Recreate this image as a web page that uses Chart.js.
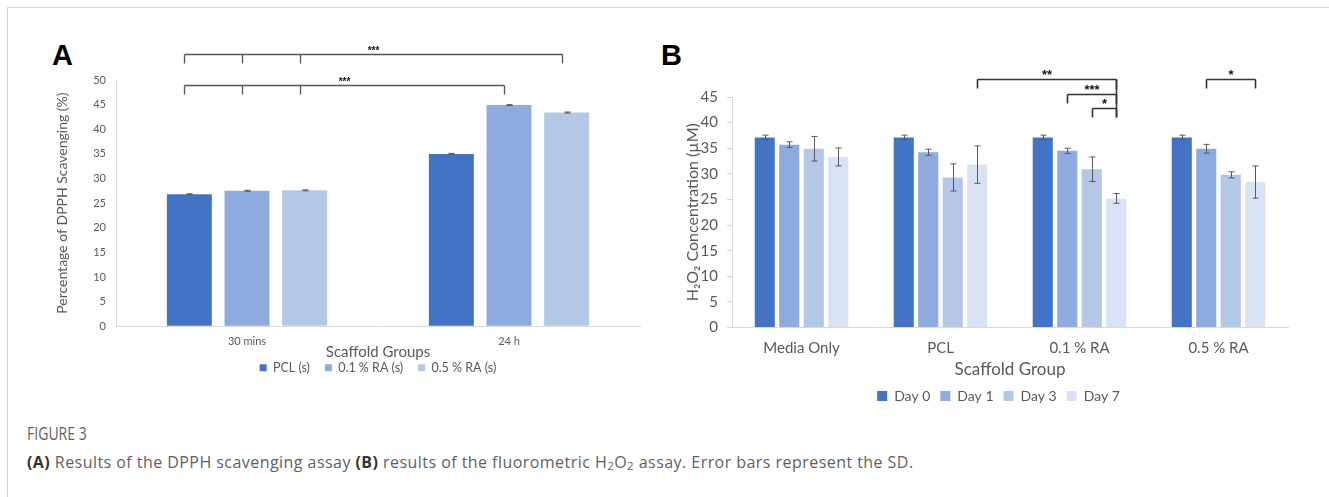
<!DOCTYPE html>
<html>
<head>
<meta charset="utf-8">
<script src="https://cdn.jsdelivr.net/npm/chart.js@4.4.1/dist/chart.umd.min.js"></script>
<style>
  body { margin:0; background:#fff; width:1329px; height:497px; overflow:hidden; position:relative; font-family:Lato, sans-serif; }
  #frame { position:absolute; left:7px; top:7px; width:1330px; height:500px; border-left:1.5px solid #d6d6d6; border-top:1.5px solid #d6d6d6; }
  .pl { position:absolute; top:41px; font:bold 29px "Liberation Sans", Arial, sans-serif; line-height:29px; color:#000; }
  canvas { position:absolute; }
  .cap { position:absolute; left:27px; font-family:"Open Sans", sans-serif; color:#5f5f5f; white-space:nowrap; }
  .cap b { color:#333; }
  .cap sub { font-size:0.72em; vertical-align:-0.2em; line-height:0; }
</style>
</head>
<body>
<div id="frame"></div>
<div class="pl" style="left:52px">A</div>
<div class="pl" style="left:661px">B</div>
<canvas id="chartA" width="600" height="354" style="left:50px;top:30px"></canvas>
<canvas id="chartB" width="650" height="383" style="left:679px;top:30px"></canvas>
<div class="cap" style="top:421px;font-size:18px;line-height:24px;transform:scaleX(0.78);transform-origin:0 0">FIGURE 3</div>
<div class="cap" style="top:451px;font-size:16px;line-height:22px;letter-spacing:0.45px"><b>(A)</b> Results of the DPPH scavenging assay <b>(B)</b> results of the fluorometric H<sub>2</sub>O<sub>2</sub> assay. Error bars represent the SD.</div>
<script>
// --- panel A: DPPH scavenging (%)
var timesA = ['30 mins', '24 h'];
var pclA = [26.8, 35.0];
var ra01A = [27.5, 44.9];
var ra05A = [27.6, 43.4];
var pclSdA = [0.1, 0.1];
var ra01SdA = [0.1, 0.1];
var ra05SdA = [0.1, 0.1];
// brackets: legs are [dataset, category]
var sigA = [
  { legs: [[0,0],[1,0],[2,0],[2,1]], label: '***', level: 0 },
  { legs: [[0,0],[1,0],[2,0],[1,1]], label: '***', level: 1 }
];

// --- panel B: H2O2 concentration (uM)
var groupsB = ['Media Only', 'PCL', '0.1 % RA', '0.5 % RA'];
var day0 = [37.1, 37.1, 37.1, 37.1];
var day1 = [35.7, 34.2, 34.5, 34.9];
var day3 = [34.9, 29.3, 30.9, 29.8];
var day7 = [33.3, 31.8, 25.2, 28.4];
var day0Sd = [0.45, 0.45, 0.45, 0.45];
var day1Sd = [0.55, 0.6, 0.5, 0.85];
var day3Sd = [2.4, 2.65, 2.4, 0.6];
var day7Sd = [1.75, 3.65, 0.95, 3.15];
var sigB = [
  { legs: [[3,1],[3,2]], label: '**', level: 0 },
  { legs: [[1,2],[3,2]], label: '***', level: 1 },
  { legs: [[2,2],[3,2]], label: '*', level: 2 },
  { legs: [[1,3],[3,3]], label: '*', level: 0 }
];

var blues = ['#4472C4', '#8FAADC', '#B4C7E7', '#DAE3F3'];
var grey = '#595959';
var axisGrey = '#d9d9d9';

var errorBars = {
  id: 'errorBars',
  afterDatasetsDraw: function(chart, args, opts) {
    var ctx = chart.ctx, ys = chart.scales.y;
    ctx.save();
    ctx.strokeStyle = opts.color;
    ctx.lineWidth = 1;
    chart.data.datasets.forEach(function(ds, i) {
      chart.getDatasetMeta(i).data.forEach(function(bar, j) {
        var v = ds.data[j], e = ds.sd[j];
        var y1 = ys.getPixelForValue(v + e), y2 = ys.getPixelForValue(v - e);
        var x = Math.round(bar.x) + 0.5, w = opts.cap;
        ctx.beginPath();
        ctx.moveTo(x, y1); ctx.lineTo(x, y2);
        ctx.moveTo(x - w, y1); ctx.lineTo(x + w, y1);
        ctx.moveTo(x - w, y2); ctx.lineTo(x + w, y2);
        ctx.stroke();
      });
    });
    ctx.restore();
  }
};

var brackets = {
  id: 'brackets',
  afterDatasetsDraw: function(chart, args, opts) {
    var ctx = chart.ctx, top = chart.chartArea.top;
    var shared = {};
    ctx.save();
    ctx.strokeStyle = opts.color;
    ctx.fillStyle = '#111';
    ctx.lineWidth = opts.lineWidth;
    ctx.font = opts.font;
    ctx.textAlign = 'center';
    ctx.textBaseline = 'alphabetic';
    opts.items.forEach(function(b) {
      var y = Math.round(top + opts.y0 + b.level * opts.step) + 0.5;
      var xs = b.legs.map(function(l) { return Math.round(chart.getDatasetMeta(l[0]).data[l[1]].x + opts.dx) + 0.5; });
      var x0 = Math.min.apply(null, xs), x1 = Math.max.apply(null, xs);
      ctx.beginPath();
      ctx.moveTo(x0, y); ctx.lineTo(x1, y);
      xs.forEach(function(x) {
        ctx.moveTo(x, y); ctx.lineTo(x, y + opts.tick);
        if (opts.join) {
          var s = shared[x] || (shared[x] = { a: y, b: y + opts.tick, n: 0 });
          s.a = Math.min(s.a, y); s.b = Math.max(s.b, y + opts.tick); s.n++;
        }
      });
      ctx.stroke();
      ctx.fillText(b.label, (x0 + x1) / 2, y + opts.labelDy);
    });
    Object.keys(shared).forEach(function(k) {
      var s = shared[k];
      if (s.n > 1) { ctx.beginPath(); ctx.moveTo(+k, s.a); ctx.lineTo(+k, s.b); ctx.stroke(); }
    });
    ctx.restore();
  }
};

// nudge the legend sideways after layout
var legendShift = {
  id: 'legendShift',
  afterLayout: function(chart, args, opts) {
    var l = chart.legend;
    if (l) { l.left += opts.dx; l.right += opts.dx; }
  }
};

Chart.defaults.font.family = 'Lato, sans-serif';
Chart.defaults.color = grey;

new Chart(document.getElementById('chartA'), {
  type: 'bar',
  data: {
    labels: timesA,
    datasets: [
      { label: 'PCL (s)', data: pclA, sd: pclSdA, backgroundColor: blues[0] },
      { label: '0.1 % RA (s)', data: ra01A, sd: ra01SdA, backgroundColor: blues[1] },
      { label: '0.5 % RA (s)', data: ra05A, sd: ra05SdA, backgroundColor: blues[2] }
    ]
  },
  options: {
    responsive: false,
    animation: false,
    categoryPercentage: 0.66,
    barPercentage: 0.78,
    layout: { padding: { top: 50, right: 10, left: 0, bottom: 0 } },
    scales: {
      x: {
        grid: { display: false, drawTicks: false },
        border: { color: axisGrey },
        ticks: { font: { size: 11 }, padding: 9, color: grey },
        title: { display: true, text: 'Scaffold Groups', font: { size: 15 }, color: grey, padding: { top: 0, bottom: -14.25 } },
        afterFit: function(s) { s.height = 20.25; }
      },
      y: {
        min: 0, max: 50,
        grid: { drawOnChartArea: false, drawTicks: false },
        border: { color: axisGrey },
        ticks: { stepSize: 5, font: { size: 11 }, padding: 10, color: grey },
        title: { display: true, text: 'Percentage of DPPH Scavenging (%)', font: { size: 14 }, color: grey, padding: { top: 4 } },
        afterFit: function(s) { s.width = 66; }
      }
    },
    plugins: {
      legend: {
        position: 'bottom',
        labels: { boxWidth: 7, boxHeight: 7, padding: 15, font: { size: 12.5 }, color: grey }
      },
      legendShift: { dx: 33 },
      tooltip: { enabled: false },
      errorBars: { color: grey, cap: 3 },
      brackets: { items: sigA, y0: -26, step: 31, tick: 9, dx: -5, labelDy: -1, join: false, color: '#555', lineWidth: 1.3, font: 'bold 10px "Liberation Sans", Arial' }
    }
  },
  plugins: [errorBars, brackets, legendShift]
});

new Chart(document.getElementById('chartB'), {
  type: 'bar',
  data: {
    labels: groupsB,
    datasets: [
      { label: 'Day 0', data: day0, sd: day0Sd, backgroundColor: blues[0] },
      { label: 'Day 1', data: day1, sd: day1Sd, backgroundColor: blues[1] },
      { label: 'Day 3', data: day3, sd: day3Sd, backgroundColor: blues[2] },
      { label: 'Day 7', data: day7, sd: day7Sd, backgroundColor: blues[3] }
    ]
  },
  options: {
    responsive: false,
    animation: false,
    categoryPercentage: 0.705,
    barPercentage: 0.82,
    layout: { padding: { top: 67, right: 41, left: 0, bottom: 0 } },
    scales: {
      x: {
        grid: { display: false, drawTicks: false },
        border: { color: axisGrey },
        ticks: { font: { size: 15 }, padding: 11.5, color: grey },
        title: { display: true, text: 'Scaffold Group', font: { size: 17 }, color: grey, padding: { top: 0, bottom: -1.2 } },
        afterFit: function(s) { s.height = 51.5; }
      },
      y: {
        min: 0, max: 45,
        grid: { drawOnChartArea: false, drawTicks: true, tickLength: 5, color: axisGrey },
        border: { color: axisGrey },
        ticks: { stepSize: 5, font: { size: 15 }, padding: 9, color: grey },
        title: { display: true, text: 'H\u2082O\u2082 Concentration (\u00b5M)', font: { size: 16 }, color: grey, padding: { top: 4 } },
        afterFit: function(s) { s.width = 53; }
      }
    },
    plugins: {
      legend: {
        position: 'bottom',
        labels: { boxWidth: 10, boxHeight: 10, padding: 10, font: { size: 14 }, color: grey }
      },
      legendShift: { dx: 15 },
      tooltip: { enabled: false },
      errorBars: { color: grey, cap: 3 },
      brackets: { items: sigB, y0: -18, step: 14.5, tick: 9, dx: 0, labelDy: -1, join: true, color: '#333', lineWidth: 1.6, font: 'bold 13px "Liberation Sans", Arial' }
    }
  },
  plugins: [errorBars, brackets, legendShift]
});
</script>
</body>
</html>
